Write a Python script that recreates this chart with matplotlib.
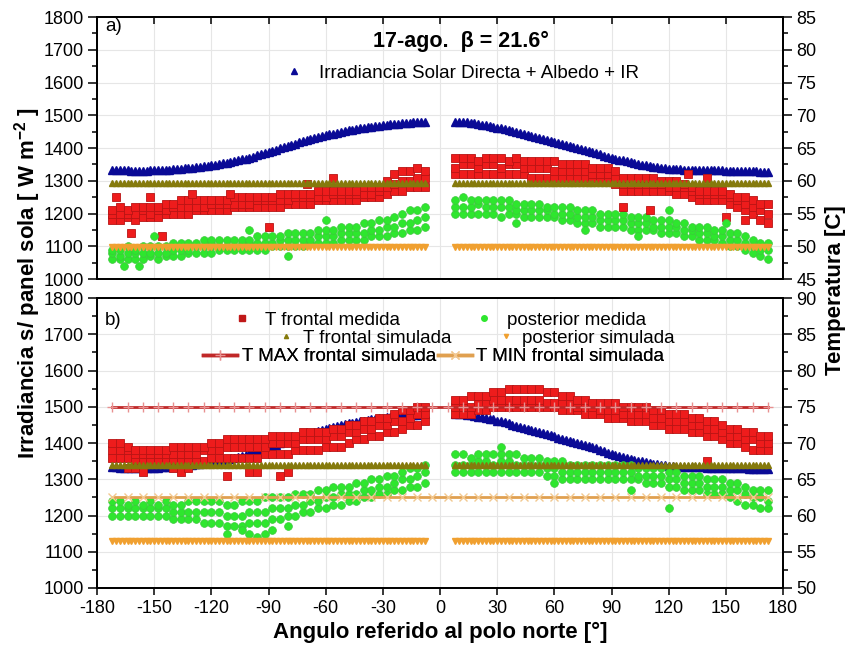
import numpy as np
import matplotlib
matplotlib.use('Agg')
import matplotlib.pyplot as plt
from matplotlib.lines import Line2D
from matplotlib.ticker import MultipleLocator

plt.rcParams['font.family'] = ['Liberation Sans', 'DejaVu Sans']
plt.rcParams['mathtext.fontset'] = 'custom'
plt.rcParams['mathtext.rm'] = 'Liberation Sans'
plt.rcParams['mathtext.bf'] = 'Liberation Sans:bold'
plt.rcParams['axes.unicode_minus'] = False

# --- angles [deg] ---
irr_ang_w = np.arange(-172, -7, 2)
irr_ang_e = np.arange(8, 173, 2)
ang_w = np.arange(-172, -7, 4)
ang_e = np.arange(8, 173, 4)
line_ang = np.arange(-172, 173, 8)

# --- irradiance (direct + albedo + IR) [W m-2], same curve in both panels ---
irr_w = [1333, 1333, 1332, 1332, 1332, 1331, 1331, 1331, 1331, 1331,
         1332, 1332, 1332, 1333, 1334, 1334, 1335, 1336, 1337, 1338,
         1339, 1340, 1341, 1342, 1344, 1345, 1347, 1349, 1351, 1353,
         1355, 1357, 1360, 1362, 1365, 1368, 1371, 1374, 1378, 1381,
         1385, 1388, 1392, 1395, 1399, 1403, 1406, 1410, 1413, 1417,
         1420, 1424, 1427, 1430, 1433, 1436, 1439, 1442, 1444, 1447,
         1449, 1452, 1454, 1456, 1458, 1460, 1462, 1464, 1465, 1467,
         1468, 1470, 1471, 1472, 1473, 1474, 1475, 1476, 1477, 1478,
         1478, 1479, 1480]
irr_e = [1480, 1480, 1479, 1478, 1477, 1475, 1473, 1471, 1469, 1467,
         1465, 1462, 1460, 1457, 1454, 1451, 1448, 1445, 1442, 1439,
         1436, 1433, 1430, 1427, 1424, 1421, 1418, 1415, 1412, 1409,
         1406, 1403, 1400, 1397, 1394, 1391, 1388, 1385, 1381, 1377,
         1373, 1370, 1367, 1364, 1362, 1359, 1356, 1354, 1351, 1349,
         1347, 1345, 1343, 1341, 1340, 1338, 1337, 1336, 1335, 1335,
         1334, 1334, 1333, 1333, 1333, 1333, 1332, 1332, 1332, 1332,
         1332, 1331, 1331, 1331, 1330, 1330, 1330, 1329, 1329, 1329,
         1328, 1328, 1328]

# --- panel a) temperatures [C] ---
tf_sim_a = 59.7
tp_sim_a = 49.9

tf_med_a_w = [
    [54.0, 54.0, 54.5, 54.0, 54.5, 54.5,
     54.5, 55.0, 55.0, 55.0, 55.0, 55.5,
     55.5, 55.5, 55.5, 55.5, 56.0, 56.0,
     56.0, 56.0, 56.0, 56.0, 56.0, 56.5,
     56.5, 56.5, 56.5, 57.0, 57.0, 57.0,
     57.0, 57.0, 57.0, 57.5, 57.5, 57.5,
     58.0, 58.5, 58.5, 59.0, 59.0, 59.0],
    [55.0, 55.0, 55.0, 55.0, 55.5, 55.0,
     55.5, 55.5, 56.0, 56.0, 56.0, 56.0,
     56.0, 56.5, 56.5, 56.5, 56.5, 56.5,
     56.5, 57.0, 57.0, 57.0, 57.0, 57.0,
     57.5, 57.5, 57.5, 57.5, 57.5, 58.0,
     58.0, 58.0, 58.0, 58.0, 58.0, 58.5,
     59.0, 59.5, 60.0, 60.0, 60.5, 60.5],
    [55.5, 56.0, 55.5, 56.0, 56.0, 56.0,
     56.0, 56.5, 56.5, 57.0, 57.0, 57.0,
     57.0, 57.0, 57.0, 57.0, 57.5, 57.5,
     57.5, 57.5, 57.5, 57.5, 58.0, 58.0,
     58.0, 58.0, 58.0, 58.5, 58.5, 58.5,
     58.5, 58.5, 58.5, 59.0, 59.0, 59.0,
     60.0, 61.0, 61.5, 61.5, 62.0, 61.5],
]
tp_med_a_w = [
    [48.0, 48.0, 48.0, 48.0, 48.0, 48.5,
     48.0, 48.5, 48.5, 48.5, 49.0, 49.0,
     49.0, 49.0, 49.5, 49.5, 49.5, 49.5,
     49.5, 49.5, 49.5, 50.0, 50.0, 50.0,
     50.0, 50.0, 50.5, 50.5, 50.5, 50.5,
     51.0, 51.0, 51.0, 51.0, 51.5, 51.5,
     51.5, 52.0, 52.0, 52.5, 52.5, 53.0],
    [49.0, 48.5, 49.0, 49.0, 49.0, 49.0,
     49.0, 49.0, 49.5, 49.5, 49.5, 50.0,
     50.0, 50.0, 50.0, 50.0, 50.0, 50.5,
     50.5, 50.5, 50.5, 50.5, 51.0, 51.0,
     51.0, 51.0, 51.0, 51.5, 51.5, 51.5,
     52.0, 52.0, 52.0, 52.0, 52.5, 52.5,
     53.0, 53.0, 53.5, 53.5, 54.0, 54.5],
    [49.5, 49.5, 50.0, 49.5, 50.0, 50.0,
     50.0, 50.0, 50.5, 50.5, 50.5, 50.5,
     51.0, 50.5, 51.0, 51.0, 51.0, 51.0,
     51.0, 51.5, 51.5, 51.5, 51.5, 52.0,
     52.0, 52.0, 52.0, 52.5, 52.5, 52.5,
     53.0, 53.0, 53.0, 53.5, 53.5, 54.0,
     54.0, 54.5, 55.0, 55.5, 55.5, 56.0],
]
tf_med_a_e = [
    [61.0, 61.0, 61.0, 61.0, 61.0, 61.0,
     61.0, 61.0, 61.0, 61.0, 60.5, 60.5,
     60.5, 60.5, 60.5, 60.5, 60.5, 60.5,
     60.5, 60.0, 60.0, 59.5, 58.5, 58.5,
     58.5, 58.5, 58.5, 58.5, 58.5, 58.0,
     58.0, 57.5, 57.0, 57.0, 57.0, 57.0,
     56.5, 56.0, 55.5, 55.0, 54.0, 53.5],
    [62.0, 62.5, 62.5, 62.0, 62.5, 62.5,
     62.0, 62.5, 62.5, 62.0, 62.0, 62.0,
     62.0, 61.5, 61.5, 61.5, 61.5, 61.5,
     61.0, 61.0, 61.0, 60.5, 59.5, 59.5,
     59.5, 59.5, 59.5, 59.5, 59.0, 59.0,
     59.0, 58.5, 58.0, 58.0, 58.0, 58.0,
     57.5, 57.0, 56.5, 56.0, 55.5, 55.0],
    [63.5, 63.5, 63.5, 63.0, 63.5, 63.5,
     63.5, 63.0, 63.5, 63.0, 63.0, 63.0,
     63.0, 63.0, 62.5, 62.5, 62.5, 62.5,
     62.0, 62.0, 62.0, 61.5, 60.5, 60.5,
     60.5, 60.5, 60.5, 60.0, 60.0, 60.0,
     59.5, 59.0, 58.5, 58.5, 58.5, 58.5,
     58.0, 57.5, 57.5, 57.0, 56.5, 56.5],
]
tp_med_a_e = [
    [55.0, 55.0, 55.0, 55.0, 55.0, 55.0,
     54.5, 55.0, 55.0, 54.5, 54.5, 54.5,
     54.5, 54.5, 54.0, 54.0, 53.5, 53.5,
     53.5, 53.0, 53.0, 53.0, 53.0, 52.5,
     52.5, 52.5, 52.5, 52.0, 52.0, 52.0,
     51.5, 51.5, 51.0, 51.0, 51.0, 50.5,
     50.0, 50.0, 49.5, 49.0, 48.5, 48.0],
    [56.0, 56.0, 56.0, 56.5, 56.0, 56.0,
     56.0, 56.0, 55.5, 55.5, 55.5, 55.5,
     55.5, 55.0, 55.0, 55.0, 54.5, 54.5,
     54.5, 54.0, 54.0, 54.0, 54.0, 53.5,
     53.5, 53.5, 53.0, 53.0, 53.0, 53.0,
     52.5, 52.5, 52.0, 52.0, 51.5, 51.5,
     51.0, 51.0, 50.5, 50.0, 49.5, 49.5],
    [57.0, 57.5, 57.0, 57.0, 57.0, 57.0,
     57.0, 57.0, 56.5, 56.5, 56.5, 56.5,
     56.0, 56.0, 56.0, 56.0, 55.5, 55.5,
     55.5, 55.0, 55.0, 55.0, 55.0, 54.5,
     54.5, 54.5, 54.0, 54.0, 54.0, 53.5,
     53.5, 53.0, 53.0, 53.0, 52.5, 52.5,
     52.0, 52.0, 51.5, 51.0, 50.5, 50.5],
]
# isolated readings
tf_out_a_ang = [-170, -162, -152, -146, -130, -110, -90, -70, -56, 96, 110, 130, 140, 150, 160]
tf_out_a_val = [57.5, 52.0, 57.5, 51.5, 58.0, 58.0, 53.0, 59.5, 60.5, 56.0, 55.5, 61.0, 60.5, 54.5, 54.0]
tp_out_a_ang = [-166, -158, -150, -120, -100, -80, -60, 40, 76, 104, 120, 150]
tp_out_a_val = [47.0, 47.0, 51.5, 51.0, 52.5, 48.5, 54.0, 53.5, 52.5, 51.5, 55.5, 53.5]

# --- panel b) temperatures [C] ---
tf_sim_b = 67.0
tp_sim_b = 56.5
tmax_b = 74.9
tmin_b = 62.5

tf_med_b_w = [
    [68.0, 68.0, 68.0, 67.5, 67.5, 67.5,
     67.5, 67.5, 67.5, 67.5, 67.5, 67.5,
     67.5, 68.0, 68.0, 68.0, 68.0, 68.0,
     68.0, 68.0, 68.5, 68.5, 68.5, 68.5,
     69.0, 69.0, 69.0, 69.0, 69.5, 69.5,
     69.5, 70.0, 70.5, 70.5, 71.0, 71.0,
     71.5, 71.5, 72.0, 72.5, 72.5, 73.0],
    [69.0, 69.0, 69.0, 68.5, 68.5, 68.5,
     68.5, 68.5, 68.5, 68.5, 68.5, 68.5,
     69.0, 69.0, 69.0, 69.5, 69.5, 69.5,
     69.5, 69.5, 69.5, 70.0, 70.0, 70.0,
     70.0, 70.5, 70.5, 70.5, 70.5, 71.0,
     71.0, 71.5, 71.5, 72.0, 72.0, 72.5,
     72.5, 73.0, 73.0, 73.5, 74.0, 74.0],
    [70.0, 70.0, 69.5, 69.0, 69.0, 69.0,
     69.0, 69.0, 69.5, 69.5, 69.5, 69.5,
     69.5, 70.0, 70.0, 70.5, 70.5, 70.5,
     70.5, 70.5, 70.5, 71.0, 71.0, 71.0,
     71.0, 71.5, 71.5, 71.5, 71.5, 72.0,
     72.0, 72.5, 72.5, 73.0, 73.0, 73.5,
     73.5, 74.0, 74.5, 74.5, 75.0, 75.0],
]
tp_med_b_w = [
    [60.0, 60.0, 60.0, 60.0, 60.0, 60.0,
     60.0, 60.0, 59.5, 59.5, 59.5, 59.5,
     59.0, 59.0, 59.0, 58.5, 58.5, 58.5,
     59.0, 59.0, 59.0, 59.5, 59.5, 60.0,
     60.0, 60.5, 60.5, 61.0, 61.0, 61.5,
     61.5, 62.0, 62.0, 62.5, 62.5, 63.0,
     63.0, 63.5, 63.5, 64.0, 64.0, 64.5],
    [61.0, 61.0, 61.0, 61.0, 61.0, 61.0,
     61.0, 61.0, 60.5, 60.5, 60.5, 60.5,
     60.5, 60.5, 60.5, 60.0, 60.0, 60.0,
     60.5, 60.5, 60.5, 61.0, 61.0, 61.0,
     61.5, 61.5, 62.0, 62.0, 62.5, 62.5,
     63.0, 63.0, 63.0, 63.5, 63.5, 64.0,
     64.0, 64.5, 65.0, 65.0, 65.5, 66.0],
    [62.0, 62.0, 61.5, 62.0, 61.5, 62.0,
     61.5, 62.0, 61.5, 61.5, 62.0, 62.0,
     62.0, 62.0, 62.0, 61.5, 61.5, 62.0,
     62.0, 62.0, 62.5, 62.5, 62.5, 62.5,
     63.0, 63.0, 63.0, 63.5, 63.5, 64.0,
     64.0, 64.0, 64.5, 64.5, 65.0, 65.0,
     65.5, 65.5, 66.0, 66.5, 66.5, 67.0],
]
tf_med_b_e = [
    [74.0, 74.0, 74.0, 74.5, 74.5, 75.0,
     75.0, 75.0, 75.0, 75.0, 75.0, 75.0,
     75.0, 75.0, 74.5, 74.5, 74.5, 74.0,
     74.0, 74.0, 73.5, 73.5, 73.5, 73.0,
     73.0, 73.0, 72.5, 72.5, 72.0, 72.0,
     72.0, 71.5, 71.5, 71.0, 71.0, 70.5,
     70.0, 70.0, 69.5, 69.0, 69.0, 69.0],
    [75.0, 75.0, 75.0, 75.5, 75.5, 76.0,
     76.0, 76.0, 76.0, 76.0, 76.0, 76.0,
     75.5, 75.5, 75.5, 75.5, 75.0, 75.0,
     75.0, 74.5, 74.5, 74.5, 74.0, 74.0,
     74.0, 74.0, 73.5, 73.5, 73.0, 73.0,
     73.0, 72.5, 72.5, 72.0, 72.0, 71.5,
     71.0, 71.0, 70.5, 70.5, 70.0, 70.0],
    [76.0, 76.0, 76.5, 76.5, 76.5, 77.0,
     77.0, 77.5, 77.5, 77.5, 77.5, 77.5,
     77.0, 77.0, 76.5, 76.5, 76.0, 76.0,
     75.5, 75.5, 75.5, 75.5, 75.0, 75.0,
     75.0, 75.0, 74.5, 74.5, 74.0, 74.0,
     74.0, 73.5, 73.5, 73.0, 73.0, 72.5,
     72.0, 72.0, 71.5, 71.5, 71.0, 71.0],
]
tp_med_b_e = [
    [66.0, 66.0, 66.0, 66.0, 66.0, 66.0,
     66.0, 66.0, 66.0, 66.0, 66.0, 66.0,
     65.5, 65.5, 65.0, 65.0, 65.0, 65.0,
     65.0, 65.0, 65.0, 65.0, 65.0, 65.0,
     65.0, 64.5, 64.5, 64.5, 64.0, 64.0,
     63.5, 63.5, 63.5, 63.0, 63.0, 63.0,
     62.5, 62.0, 61.5, 61.5, 61.0, 61.0],
    [67.0, 67.0, 67.0, 67.5, 67.5, 67.0,
     67.5, 67.5, 67.0, 67.0, 67.0, 67.0,
     66.5, 66.5, 66.0, 66.0, 66.0, 66.0,
     66.0, 66.0, 66.0, 66.0, 66.0, 66.0,
     65.5, 65.5, 65.5, 65.5, 65.0, 65.0,
     64.5, 64.5, 64.5, 64.0, 64.0, 64.0,
     63.5, 63.5, 63.0, 62.5, 62.5, 62.0],
    [68.5, 68.5, 68.0, 68.5, 68.5, 68.5,
     68.5, 68.5, 68.5, 68.0, 68.0, 68.0,
     67.5, 67.5, 67.5, 67.0, 67.0, 67.0,
     67.0, 67.0, 67.0, 67.0, 67.0, 67.0,
     66.5, 66.5, 66.5, 66.5, 66.0, 66.0,
     65.5, 65.5, 65.5, 65.0, 65.0, 65.0,
     64.5, 64.5, 64.0, 63.5, 63.5, 63.5],
]
# isolated readings
tf_out_b_ang = [-164, -160, -156, -140, -136, -132, -112, -100, -96, -84, -80, 140]
tf_out_b_val = [66.5, 66.5, 66.0, 66.5, 66.0, 66.5, 65.5, 66.0, 66.0, 65.5, 66.0, 67.5]
tp_out_b_ang = [-112, -104, -100, -96, -92, -88, -80, 32, 60, 100, 120, 148]
tp_out_b_val = [57.5, 58.0, 57.5, 57.0, 57.5, 58.0, 58.5, 69.5, 64.5, 63.5, 61.0, 63.0]

C_IRR = '#0a0a96'
C_TF = '#ee1c1c'
C_TF_EDGE = '#b81414'
C_TP = '#2ee62e'
C_TP_EDGE = '#3cc83c'
C_TF_SIM = '#857a0c'
C_TP_SIM = '#f0a030'
C_TMAX = '#c02828'
C_TMIN = '#e0a050'

fig = plt.figure(figsize=(8.48, 6.48), dpi=100)
ax_a = fig.add_axes([0.1144, 0.5694, 0.809, 0.4043])
ax_b = fig.add_axes([0.1144, 0.0926, 0.809, 0.4475])
axt_a = ax_a.twinx()
axt_b = ax_b.twinx()


def style(ax, axt, tlim, bottom_panel):
    ax.set_xlim(-180, 180)
    ax.set_ylim(1000, 1800)
    axt.set_ylim(*tlim)
    ax.xaxis.set_major_locator(MultipleLocator(30))
    ax.yaxis.set_major_locator(MultipleLocator(100))
    ax.yaxis.set_minor_locator(MultipleLocator(50))
    axt.yaxis.set_major_locator(MultipleLocator(5))
    axt.yaxis.set_minor_locator(MultipleLocator(2.5))
    ax.grid(True, which='major', color='#e6e6e6', lw=0.8)
    ax.set_axisbelow(True)
    for a in (ax, axt):
        a.tick_params(axis='y', which='major', direction='out', length=6.5,
                      width=1.1, labelsize=13, pad=3)
        a.tick_params(axis='y', which='minor', direction='out', length=3.5, width=1.1)
        for sp in a.spines.values():
            sp.set_linewidth(1.3)
    if bottom_panel:
        ax.tick_params(axis='x', direction='out', length=5, width=1.1,
                       labelsize=13, top=False)
    else:
        ax.tick_params(axis='x', direction='in', length=5, width=1.1,
                       bottom=False, top=True, labelbottom=False)


def plot_measured(axt, ang, rows, **kw):
    for row in rows:
        axt.plot(ang, row, ls='none', **kw)


red_kw = dict(marker='s', ms=5.6, mfc=C_TF, mec=C_TF_EDGE, mew=0.6)
green_kw = dict(marker='o', ms=5.6, mfc=C_TP, mec=C_TP_EDGE, mew=0.5)

for ax, axt, tlim, fsim, psim, fw, pw, fe, pe in (
        (ax_a, axt_a, (45, 85), tf_sim_a, tp_sim_a, tf_med_a_w, tp_med_a_w, tf_med_a_e, tp_med_a_e),
        (ax_b, axt_b, (50, 90), tf_sim_b, tp_sim_b, tf_med_b_w, tp_med_b_w, tf_med_b_e, tp_med_b_e)):
    style(ax, axt, tlim, ax is ax_b)
    ax.plot(irr_ang_w, irr_w, ls='none', marker='^', ms=5.5, color=C_IRR)
    ax.plot(irr_ang_e, irr_e, ls='none', marker='^', ms=5.5, color=C_IRR)
    plot_measured(axt, ang_w, fw, **red_kw)
    plot_measured(axt, ang_e, fe, **red_kw)
    plot_measured(axt, ang_w, pw, **green_kw)
    plot_measured(axt, ang_e, pe, **green_kw)
    if axt is axt_a:
        axt.plot(tf_out_a_ang, tf_out_a_val, ls='none', **red_kw)
        axt.plot(tp_out_a_ang, tp_out_a_val, ls='none', **green_kw)
    else:
        axt.plot(tf_out_b_ang, tf_out_b_val, ls='none', **red_kw)
        axt.plot(tp_out_b_ang, tp_out_b_val, ls='none', **green_kw)
    for angs in (irr_ang_w, irr_ang_e):
        axt.plot(angs, np.full(len(angs), fsim), ls='none', marker='^', ms=4.2, color=C_TF_SIM)
        axt.plot(angs, np.full(len(angs), psim), ls='none', marker='v', ms=4.2, color=C_TP_SIM)

axt_b.plot(line_ang, np.full(len(line_ang), tmax_b), color=C_TMAX, lw=2,
           marker='+', ms=7, mec='#e89090', mew=1)
axt_b.plot(line_ang, np.full(len(line_ang), tmin_b), color=C_TMIN, lw=2,
           marker='x', ms=6, mec='#f2c890', mew=1)

# panel texts
ax_a.text(0.012, 0.962, 'a)', transform=ax_a.transAxes, fontsize=13.5, va='center')
ax_b.text(0.012, 0.924, 'b)', transform=ax_b.transAxes, fontsize=13.5, va='center')
axt_a.text(0.531, 0.905, '17-ago.  \u03b2 = 21.6\u00b0', transform=ax_a.transAxes,
           fontsize=15.5, fontweight='bold', ha='center', va='center')

h_irr = Line2D([], [], ls='none', marker='^', ms=5, color=C_IRR)
axt_a.legend([h_irr], ['Irradiancia Solar Directa + Albedo + IR'], loc='center',
             bbox_to_anchor=(0.532, 0.786), frameon=False, fontsize=13.5,
             handlelength=1.0, handletextpad=0.8, borderpad=0)

h_tf = Line2D([], [], ls='none', marker='s', ms=4, mfc='#c01818', mec='#c01818')
h_tp = Line2D([], [], ls='none', marker='o', ms=4, mfc=C_TP, mec=C_TP)
h_tfs = Line2D([], [], ls='none', marker='^', ms=3, color=C_TF_SIM)
h_tps = Line2D([], [], ls='none', marker='v', ms=3, color=C_TP_SIM)
h_max = Line2D([], [], color=C_TMAX, lw=2.5, marker='+', ms=7, mec='#e89090', mew=1)
h_min = Line2D([], [], color=C_TMIN, lw=2.5, marker='x', ms=6, mec='#f2c890', mew=1)

rows = [
    ([h_tf, h_tp], ['T frontal medida', 'posterior medida'], (0.499, 0.924), 4.0, 1.0, 0.7),
    ([h_tfs, h_tps], ['T frontal simulada', 'posterior simulada'], (0.552, 0.862), 2.4, 1.0, 0.4),
    ([h_max, h_min], ['T MAX frontal simulada', 'T MIN frontal simulada'], (0.491, 0.797), 0.1, 1.8, 0.25),
]
for handles, labels, anchor, colsp, hlen, hpad in rows:
    leg = axt_b.legend(handles, labels, ncol=2, loc='center', bbox_to_anchor=anchor,
                       frameon=False, fontsize=13.5, columnspacing=colsp,
                       handlelength=hlen, handletextpad=hpad, borderpad=0)
    axt_b.add_artist(leg)

fig.text(0.033, 1 - 283 / 648, 'Irradiancia s/ panel sola [ W m$^{\\mathbf{-2}}$ ]',
         rotation=90, ha='center', va='center', fontsize=16, fontweight='bold')
fig.text(0.985, 1 - 290 / 648, 'Temperatura [C]', rotation=90, ha='center',
         va='center', fontsize=16, fontweight='bold')
fig.text(0.519, 1 - 632 / 648, 'Angulo referido al polo norte [\u00b0]', ha='center',
         va='center', fontsize=16, fontweight='bold')

fig.savefig('out.png', dpi=100)
